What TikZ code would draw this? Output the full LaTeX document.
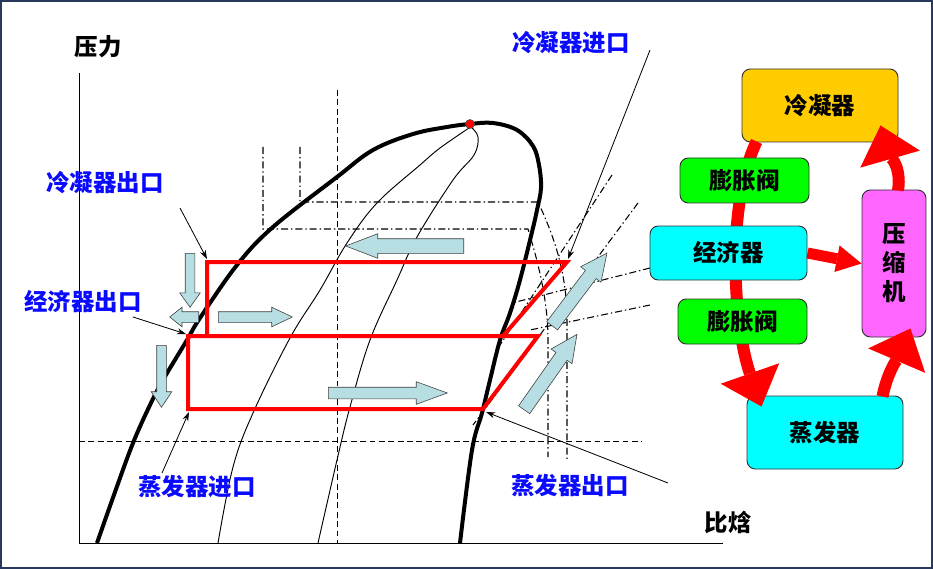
\documentclass[tikz,border=0pt]{standalone}
\usepackage{fontspec}
\newfontfamily\cjk{Noto Sans CJK SC}
\usetikzlibrary{arrows.meta,calc,shapes.arrows}

\definecolor{framenavy}{RGB}{40,58,92}
\definecolor{flowblue}{RGB}{183,222,226}
\definecolor{condyellow}{RGB}{255,204,0}
\definecolor{valvegreen}{RGB}{0,255,0}
\definecolor{hxcyan}{RGB}{0,255,255}
\definecolor{comppink}{RGB}{255,102,255}
\definecolor{tagblue}{RGB}{10,10,255}

\newcommand{\px}{0.03cm}
\newcommand{\cnfont}{\cjk\bfseries\fontsize{20}{24}\selectfont}

\tikzset{
  dome/.style={line width=0.12cm, line join=round},
  quality/.style={line width=0.8pt},
  guide/.style={line width=0.8pt, dash pattern=on 5pt off 3pt},
  isoline/.style={line width=0.9pt, dash pattern=on 6pt off 2.5pt on 1.2pt off 2.5pt},
  cycleline/.style={red, line width=0.12cm, line join=miter},
  flowarrow/.style n args={5}{single arrow, draw=black!75, fill=flowblue,
    line width=0.5pt, inner xsep=0pt, inner ysep=#2/2*\px, anchor=tail,
    minimum height=#1*\px, minimum width=#3*\px,
    single arrow head extend={(#3-#2)/2*\px}, single arrow tip angle=#4, rotate=#5},
  pointer/.style={line width=0.7pt, -{Stealth[length=0.27cm,width=0.18cm]}},
  tag/.style={text=tagblue, font=\cnfont},
  block/.style={draw=black!80, line width=0.8pt, rounded corners=0.25cm,
    font=\cnfont, inner sep=0pt},
  loopline/.style={red, line width=0.36cm,
    -{Triangle[width=1.86cm,length=1.05cm,line width=0pt]}}
}

\begin{document}
\begin{tikzpicture}[x=0.03cm, y=-0.03cm]

\useasboundingbox (0,0) rectangle (933,569);
\draw[framenavy, line width=0.07cm] (1,1) rectangle (932,568);

% axes
\draw[line width=0.8pt] (79,73) -- (79,543) -- (723,543);
\node[font=\cnfont] (pAxis) at (98,47) {压力};
\node[font=\cnfont] (hAxis) at (728,522) {比焓};

% guide lines
\draw[guide] (337,90) -- (337,543);
\draw[guide] (79,441) -- (642,441);

% isotherms
\draw[isoline] (300,147) -- (300,202) -- (538,202)
  .. controls (552,232) and (567,270) .. (567,320) -- (567,459);
\draw[isoline] (263,147) -- (263,229) -- (528,229)
  .. controls (538,262) and (548,300) .. (548,340) -- (548,457);

% isentropes and economizer lines
\draw[isoline] (612,175) -- (500,345);
\draw[isoline] (638,203) -- (473,425);
\draw[isoline] (650,268) -- (512,303);
\draw[isoline] (650,305) -- (530,330);

% quality lines
\draw[quality] plot[smooth, tension=0.6] coordinates {(469,128) (440,148) (420,165)
  (377,203) (347,243) (320,290) (290,338) (253,413) (233,467) (218,543)};
\draw[quality] plot[smooth, tension=0.6] coordinates {(471,127) (478,137) (474,155)
  (453,180) (417,237) (397,280) (370,340) (350,407) (337,460) (318,543)};

% saturation dome
\draw[dome] plot[smooth, tension=0.6] coordinates {(97,543) (115,492) (133,443)
  (150,405) (163,380) (187,340) (200,318) (237,265) (273,227) (337,177) (373,150)
  (413,134) (447,127) (470,124) (493,123) (517,130) (533,146) (539,165) (541,188)
  (537,210) (532,232) (520,280) (510,313) (500,340) (490,380) (482,413) (472,450)
  (460,543)};
\node[circle, fill=red, draw=black!70, line width=0.5pt, inner sep=0pt,
  minimum size=0.27cm] (crit) at (470,124) {};

% cycle
\coordinate (condOut) at (207,262);
\coordinate (condIn) at (567,262);
\coordinate (mixPt) at (503,336);
\coordinate (econOut) at (188,336);
\coordinate (hpIn) at (538,336);
\coordinate (evapOut) at (483,409);
\coordinate (evapIn) at (188,409);
\draw[cycleline] (207,336) -- (condOut) -- (condIn) -- (mixPt);
\draw[cycleline] (econOut) -- (hpIn) -- (evapOut) -- (evapIn) -- cycle;

% flow arrows (placed by their tails)
\node[flowarrow={118}{14}{24}{42}{180}] (fTop) at (464,246) {};
\node[flowarrow={119}{11}{22}{40}{0}] (fLow) at (328,393) {};
\node[flowarrow={74}{10}{19}{51}{0}] (fMid) at (218,317) {};
\node[flowarrow={29}{10}{19}{77}{180}] (fBack) at (199,317) {};
\node[flowarrow={54}{9}{20}{71}{-90}] (fDownA) at (190,253) {};
\node[flowarrow={62}{9}{20}{67}{-90}] (fDownB) at (161.5,345) {};
\node[flowarrow={91}{13}{25}{51}{53}] (fUpA) at (552,326) {};
\node[flowarrow={92}{13}{25}{51}{55}] (fUpB) at (524,410) {};

% state labels
\node[tag] (tCondOut) at (105,183) {冷凝器出口};
\node[tag] (tEconOut) at (83,302) {经济器出口};
\node[tag] (tEvapIn) at (197,487) {蒸发器进口};
\node[tag] (tCondIn) at (571,43) {冷凝器进口};
\node[tag] (tEvapOut) at (570,486) {蒸发器出口};

\coordinate (qCondOut) at (180,208);
\coordinate (qEconOut) at (133,317);
\coordinate (qEvapIn) at (162,473);
\coordinate (qCondIn) at (650,50);
\coordinate (qEvapOut) at (668,483);
\draw[pointer] (qCondOut) -- (207,259);
\draw[pointer] (qEconOut) -- (186,334);
\draw[pointer] (qEvapIn) -- (189,412);
\draw[pointer] (qCondIn) -- (568,259);
\draw[pointer] (qEvapOut) -- (486,412);

% system blocks
\node[block, fill=condyellow, minimum width=156*\px, minimum height=73*\px]
  (cond) at (820,105.5) {冷凝器};
\node[block, fill=comppink, minimum width=64*\px, minimum height=147*\px,
  align=center, font=\cjk\bfseries\fontsize{20}{24.7}\selectfont]
  (comp) at (894,263.5) {压\\缩\\机};
\node[block, fill=hxcyan, minimum width=156*\px, minimum height=73*\px]
  (evap) at (825,432.5) {蒸发器};

\draw[loopline] ($(cond.south west)+(15,-1)$)
  .. controls +(-32,68) and +(-27,-77) .. ($(evap.north west)+(15,11)$);
\draw[loopline] ($(comp.north)+(4,1)$)
  .. controls +(4,-25) and +(8,28) .. ($(cond.south east)+(-18,-17)$);
\draw[loopline] ($(evap.north east)+(-21,1)$)
  .. controls +(5,-25) and +(-12,28) .. ($(comp.south east)+(-16,-9)$);

\node[block, fill=valvegreen, minimum width=129*\px, minimum height=45*\px]
  (valveA) at (744.5,180.5) {膨胀阀};
\node[block, fill=hxcyan, minimum width=157*\px, minimum height=54*\px]
  (econ) at (728.5,253) {经济器};
\node[block, fill=valvegreen, minimum width=129*\px, minimum height=45*\px]
  (valveB) at (742.5,321.5) {膨胀阀};

\draw[red, line width=0.33cm, -{Triangle[width=0.81cm,length=0.75cm,line width=0pt]}]
  (econ.east) -- (comp.west);

\end{tikzpicture}
\end{document}
